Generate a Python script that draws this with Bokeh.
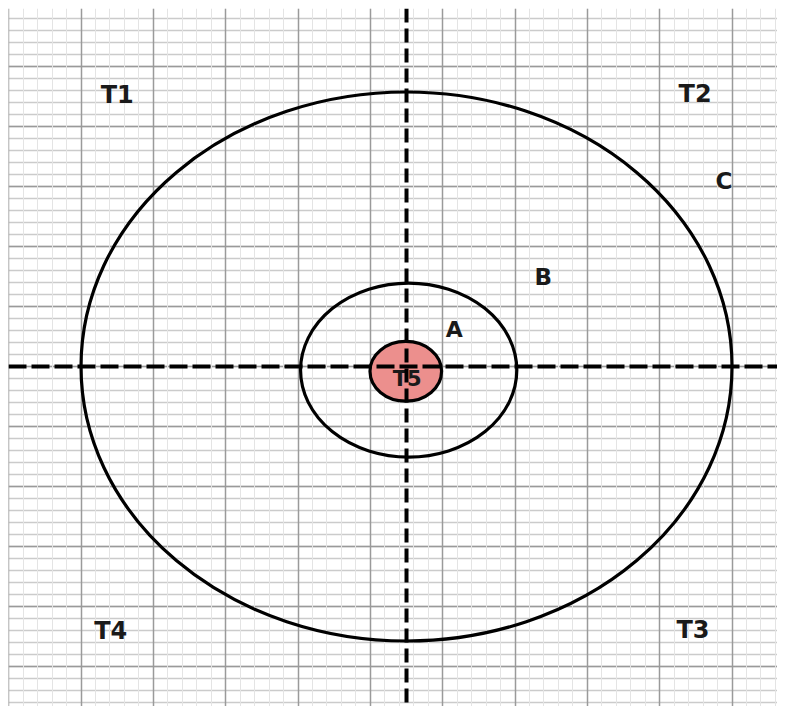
from bokeh.plotting import figure
from bokeh.models import Range1d, Grid, FixedTicker, Span
from bokeh.core.properties import value
from bokeh.embed import file_html
from bokeh.resources import INLINE

# --- data (grid units: x in major columns, y in major rows; origin at the cross) ---
ell_x = [0.0, 0.03, -0.01]
ell_y = [0.0, -0.06, -0.08]
ell_w = [9.0, 2.99, 0.99]
ell_h = [9.15, 2.90, 0.995]
ell_fill = [None, None, "#ec8f8d"]

lab_text = ["T1", "T2", "C", "B", "A", "T5", "T4", "T3"]
lab_x = [-4.00, 3.99, 4.39, 1.89, 0.66, 0.01, -4.09, 3.96]
lab_y = [4.53, 4.55, 3.10, 1.50, 0.62, -0.21, -4.41, -4.40]
lab_size = ["24px", "24px", "23px", "23px", "22px", "21px", "24px", "24px"]

axis_x = 0.0
axis_y = 0.0

x_major = [-5.5, -4.5, -3.5, -2.5, -1.5, -0.5, 0.5, 1.5, 2.5, 3.5, 4.5, 5.5]
y_major = [-6, -5, -4, -3, -2, -1, 0, 1, 2, 3, 4, 5, 6]
x_minor = [round(-5.5 + 0.2 * i, 3) for i in range(56)]
y_minor = [round(-6 + 0.2 * i, 3) for i in range(61)]

W, H = 777, 706
p = figure(width=W, height=H, output_backend="svg", toolbar_location=None,
           x_range=Range1d(-5.5026, 5.129), y_range=Range1d(-5.667, 5.967),
           x_axis_type=None, y_axis_type=None,
           min_border_left=8, min_border_top=8, min_border_right=0, min_border_bottom=0)
p.outline_line_color = None
p.background_fill_color = "white"
p.border_fill_color = "white"

# horizontal lines (dimension=1)
p.add_layout(Grid(dimension=1, ticker=FixedTicker(ticks=y_major, minor_ticks=y_minor),
                  grid_line_color="#9a9a9a", grid_line_width=1.5,
                  minor_grid_line_color="#cbcbcb", minor_grid_line_width=1.3))
# vertical lines (dimension=0)
p.add_layout(Grid(dimension=0, ticker=FixedTicker(ticks=x_major, minor_ticks=x_minor),
                  grid_line_color="#9a9a9a", grid_line_width=1.5,
                  minor_grid_line_color="#e4e4e4", minor_grid_line_width=1.0))

p.ellipse(x=ell_x, y=ell_y, width=ell_w, height=ell_h,
          fill_color=ell_fill, line_color="black", line_width=3.2)

p.add_layout(Span(location=axis_x, dimension="height", line_color="black",
                  line_width=4, line_dash="14 6"))
p.add_layout(Span(location=axis_y, dimension="width", line_color="black",
                  line_width=4, line_dash="18 5"))

p.text(x=lab_x, y=lab_y, text=lab_text, text_font=value("DejaVu Sans"),
       text_font_style="bold", text_font_size=lab_size, text_color="#1a1a1a",
       text_align="center", text_baseline="alphabetic")

open("out.html", "w").write(file_html(p, INLINE))
